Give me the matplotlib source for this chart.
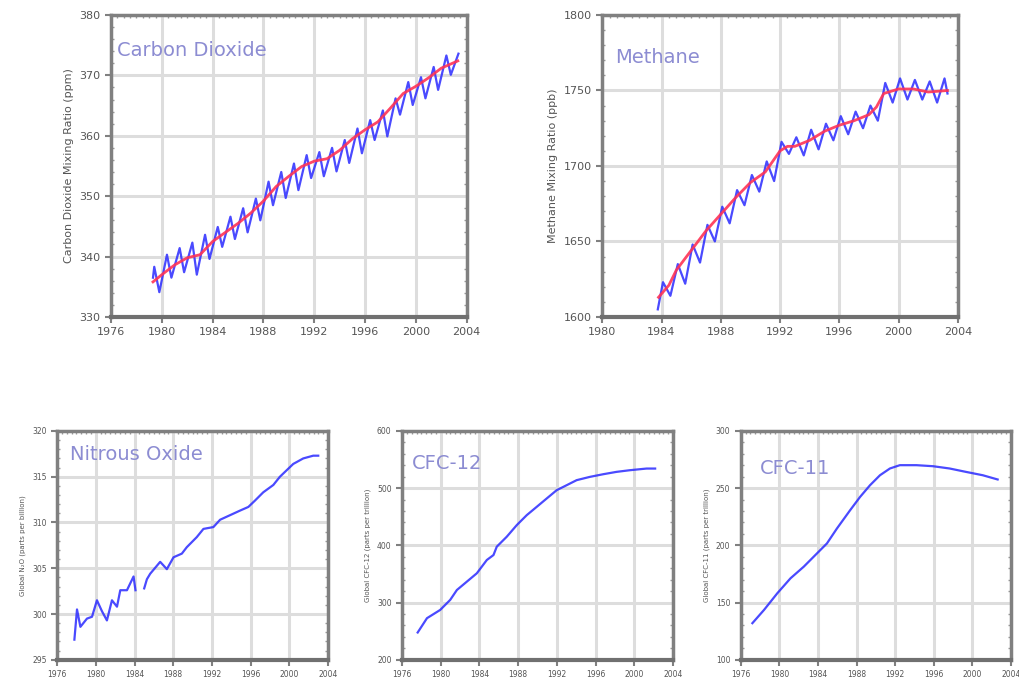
import numpy as np
import matplotlib.pyplot as plt
from matplotlib.ticker import MultipleLocator

# ---- data ----
co2_trend_t = [1979.3, 1980, 1981, 1982, 1983, 1984, 1985, 1986, 1987, 1988, 1989,
               1990, 1991, 1992, 1993, 1994, 1995, 1996, 1997, 1998, 1999, 2000,
               2001, 2002, 2003.3]
co2_trend = [335.8, 337.0, 338.6, 339.8, 340.3, 342.5, 344.0, 345.5, 347.2, 349.2,
             351.6, 353.3, 354.9, 355.8, 356.2, 357.6, 359.5, 361.0, 362.3, 364.6,
             367.0, 368.2, 369.6, 371.2, 372.4]

co2_t = [1979.3, 1979.4, 1979.8, 1980.4, 1980.75, 1981.4, 1981.75, 1982.4, 1982.75,
         1983.4, 1983.75, 1984.4, 1984.75, 1985.4, 1985.75, 1986.4, 1986.75,
         1987.4, 1987.75, 1988.4, 1988.75, 1989.4, 1989.75, 1990.4, 1990.75,
         1991.4, 1991.75, 1992.4, 1992.75, 1993.4, 1993.75, 1994.4, 1994.75,
         1995.4, 1995.75, 1996.4, 1996.75, 1997.4, 1997.75, 1998.4, 1998.75,
         1999.4, 1999.75, 2000.4, 2000.75, 2001.4, 2001.75, 2002.4, 2002.75,
         2003.35]
co2_monthly = [336.5, 338.3, 334.1, 340.3, 336.5, 341.4, 337.4, 342.3, 337.0,
               343.6, 339.6, 344.9, 341.6, 346.6, 342.9, 348.0, 344.0,
               349.6, 346.0, 352.4, 348.5, 354.0, 349.7, 355.4, 351.0,
               356.8, 353.0, 357.3, 353.3, 358.0, 354.1, 359.3, 355.5,
               361.2, 357.1, 362.6, 359.3, 364.2, 359.9, 366.2, 363.5,
               368.9, 365.1, 369.7, 366.2, 371.4, 367.6, 373.3, 370.1,
               373.6]

ch4_trend_t = [1983.8, 1984.5, 1985, 1986, 1987, 1988, 1989, 1990, 1991, 1992,
               1992.5, 1993, 1994, 1995, 1996, 1997, 1998, 1998.5, 1999, 2000,
               2001, 2002, 2003.3]
ch4_trend = [1613, 1621, 1631, 1644, 1657, 1668, 1679, 1689, 1696, 1710,
             1713, 1713, 1717, 1723, 1727, 1730, 1734, 1739, 1748, 1751,
             1751, 1749, 1750]

ch4_t = [1983.75, 1984.1, 1984.6, 1985.1, 1985.6, 1986.1, 1986.6, 1987.1, 1987.6,
         1988.1, 1988.6, 1989.1, 1989.6, 1990.1, 1990.6, 1991.1, 1991.6,
         1992.1, 1992.6, 1993.1, 1993.6, 1994.1, 1994.6, 1995.1, 1995.6,
         1996.1, 1996.6, 1997.1, 1997.6, 1998.1, 1998.6, 1999.1, 1999.6,
         2000.1, 2000.6, 2001.1, 2001.6, 2002.1, 2002.6, 2003.1, 2003.3]
ch4_monthly = [1605, 1623, 1614, 1635, 1622, 1648, 1636, 1661, 1650,
               1673, 1662, 1684, 1674, 1694, 1683, 1703, 1690,
               1716, 1708, 1719, 1707, 1724, 1711, 1728, 1717,
               1733, 1721, 1736, 1725, 1740, 1730, 1755, 1742,
               1758, 1744, 1757, 1744, 1756, 1742, 1758, 1748]

n2o_t = [1977.79, 1978.06, 1978.41, 1979.09, 1979.61, 1980.12, 1980.64, 1981.15,
         1981.67, 1982.19, 1982.53, 1983.22, 1983.9, 1984.1, 1984.6, 1985.0,
         1985.28, 1985.62, 1986.65, 1987.0, 1987.34, 1988.03, 1988.89, 1989.4,
         1990.43, 1991.12, 1992.15, 1992.84, 1993.87, 1994.9, 1995.76, 1996.45,
         1997.3, 1998.34, 1999.02, 1999.71, 2000.4, 2001.43, 2002.46, 2002.98]
n2o = [297.2, 300.5, 298.6, 299.5, 299.7, 301.5, 300.3, 299.3,
       301.5, 300.8, 302.6, 302.6, 304.1, 302.6, np.nan, 302.8,
       303.8, 304.4, 305.7, 305.3, 304.9, 306.2, 306.6, 307.3,
       308.4, 309.3, 309.5, 310.3, 310.8, 311.3, 311.7, 312.4,
       313.3, 314.1, 315.0, 315.7, 316.4, 317.0, 317.3, 317.3]

cfc12_t = [1977.62, 1978.58, 1979.95, 1980.98, 1981.67, 1982.7, 1983.73, 1984.76,
           1985.45, 1985.79, 1986.82, 1987.86, 1988.89, 1989.92, 1990.95, 1991.98,
           1993.01, 1994.04, 1995.42, 1996.79, 1998.16, 1999.54, 2001.26, 2002.15]
cfc12 = [247.7, 272.7, 287.2, 304.7, 322.0, 336.6, 351.2, 374.4,
         383.1, 397.7, 415.1, 435.5, 452.9, 467.4, 482.0, 496.5,
         505.2, 514.0, 519.8, 524.4, 528.5, 531.4, 534.3, 534.3]

cfc11_t = [1977.2, 1978.41, 1979.78, 1981.15, 1982.53, 1983.9, 1984.93, 1985.97,
           1987.34, 1988.37, 1989.4, 1990.43, 1991.46, 1992.49, 1994.21, 1995.93,
           1997.65, 1999.37, 2001.09, 2002.63]
cfc11 = [132.0, 143.6, 158.1, 171.2, 181.4, 193.0, 201.7, 214.8,
         230.8, 242.4, 252.6, 261.3, 267.2, 270.1, 270.1, 269.2,
         267.2, 264.2, 261.3, 257.6]

BLUE = "#2a2aff"
RED = "#ff3355"
TITLE_C = "#8c8cd2"
SPINE_C = "#808080"
GRID_C = "#dddddd"


def style(ax, xlim, ylim, xstep, ystep, fs, title, tx, ty, tfs, ylabel, lfs):
    ax.set_xlim(*xlim)
    ax.set_ylim(*ylim)
    ax.xaxis.set_major_locator(MultipleLocator(xstep))
    ax.yaxis.set_major_locator(MultipleLocator(ystep))
    ax.xaxis.set_minor_locator(MultipleLocator(xstep / 8))
    ax.yaxis.set_minor_locator(MultipleLocator(ystep / 5))
    ax.grid(True, which="major", color=GRID_C, lw=2.2, zorder=0)
    for s in ax.spines.values():
        s.set_color(SPINE_C)
        s.set_linewidth(2.5)
    ax.spines["bottom"].set_color("#707070")
    ax.spines["bottom"].set_linewidth(3)
    ax.tick_params(which="major", direction="out", length=4, width=1.5,
                   color=SPINE_C, labelsize=fs, labelcolor="#555555")
    ax.tick_params(which="minor", direction="in", length=2, width=1,
                   color="#999999", top=True, right=True, left=True, bottom=False)
    ax.set_axisbelow(True)
    ax.text(tx, ty, title, transform=ax.transAxes, color=TITLE_C,
            fontsize=tfs, va="center", ha="left")
    ax.set_ylabel(ylabel, fontsize=lfs, color="#555555")


fig = plt.figure(figsize=(10.19, 6.83), dpi=100)

ax1 = fig.add_axes([0.109, 0.536, 0.349, 0.442])
ax1.plot(co2_t, co2_monthly, color=BLUE, lw=1.6, alpha=0.85, zorder=2)
ax1.plot(co2_trend_t, co2_trend, color=RED, lw=2.0, alpha=0.9, zorder=3)
style(ax1, (1976, 2004), (330, 380), 4, 10, 8, "Carbon Dioxide", 0.017, 0.884, 14,
      "Carbon Dioxide Mixing Ratio (ppm)", 8)

ax2 = fig.add_axes([0.591, 0.536, 0.349, 0.442])
ax2.plot(ch4_t, ch4_monthly, color=BLUE, lw=1.6, alpha=0.85, zorder=2)
ax2.plot(ch4_trend_t, ch4_trend, color=RED, lw=2.0, alpha=0.9, zorder=3)
style(ax2, (1980, 2004), (1600, 1800), 4, 50, 8, "Methane", 0.037, 0.86, 14,
      "Methane Mixing Ratio (ppb)", 8)

ax3 = fig.add_axes([0.056, 0.034, 0.266, 0.335])
ax3.plot(n2o_t, n2o, color=BLUE, lw=1.6, alpha=0.85, zorder=2)
style(ax3, (1976, 2004), (295, 320), 4, 5, 5.5, "Nitrous Oxide", 0.048, 0.895, 14,
      "Global N\u2082O (parts per billion)", 5)

ax4 = fig.add_axes([0.3945, 0.034, 0.266, 0.335])
ax4.plot(cfc12_t, cfc12, color=BLUE, lw=1.6, alpha=0.85, zorder=2)
style(ax4, (1976, 2004), (200, 600), 4, 100, 5.5, "CFC-12", 0.037, 0.86, 14,
      "Global CFC-12 (parts per trillion)", 5)

ax5 = fig.add_axes([0.727, 0.034, 0.265, 0.335])
ax5.plot(cfc11_t, cfc11, color=BLUE, lw=1.6, alpha=0.85, zorder=2)
style(ax5, (1976, 2004), (100, 300), 4, 50, 5.5, "CFC-11", 0.07, 0.838, 14,
      "Global CFC-11 (parts per trillion)", 5)

fig.savefig("out.png", dpi=100)
